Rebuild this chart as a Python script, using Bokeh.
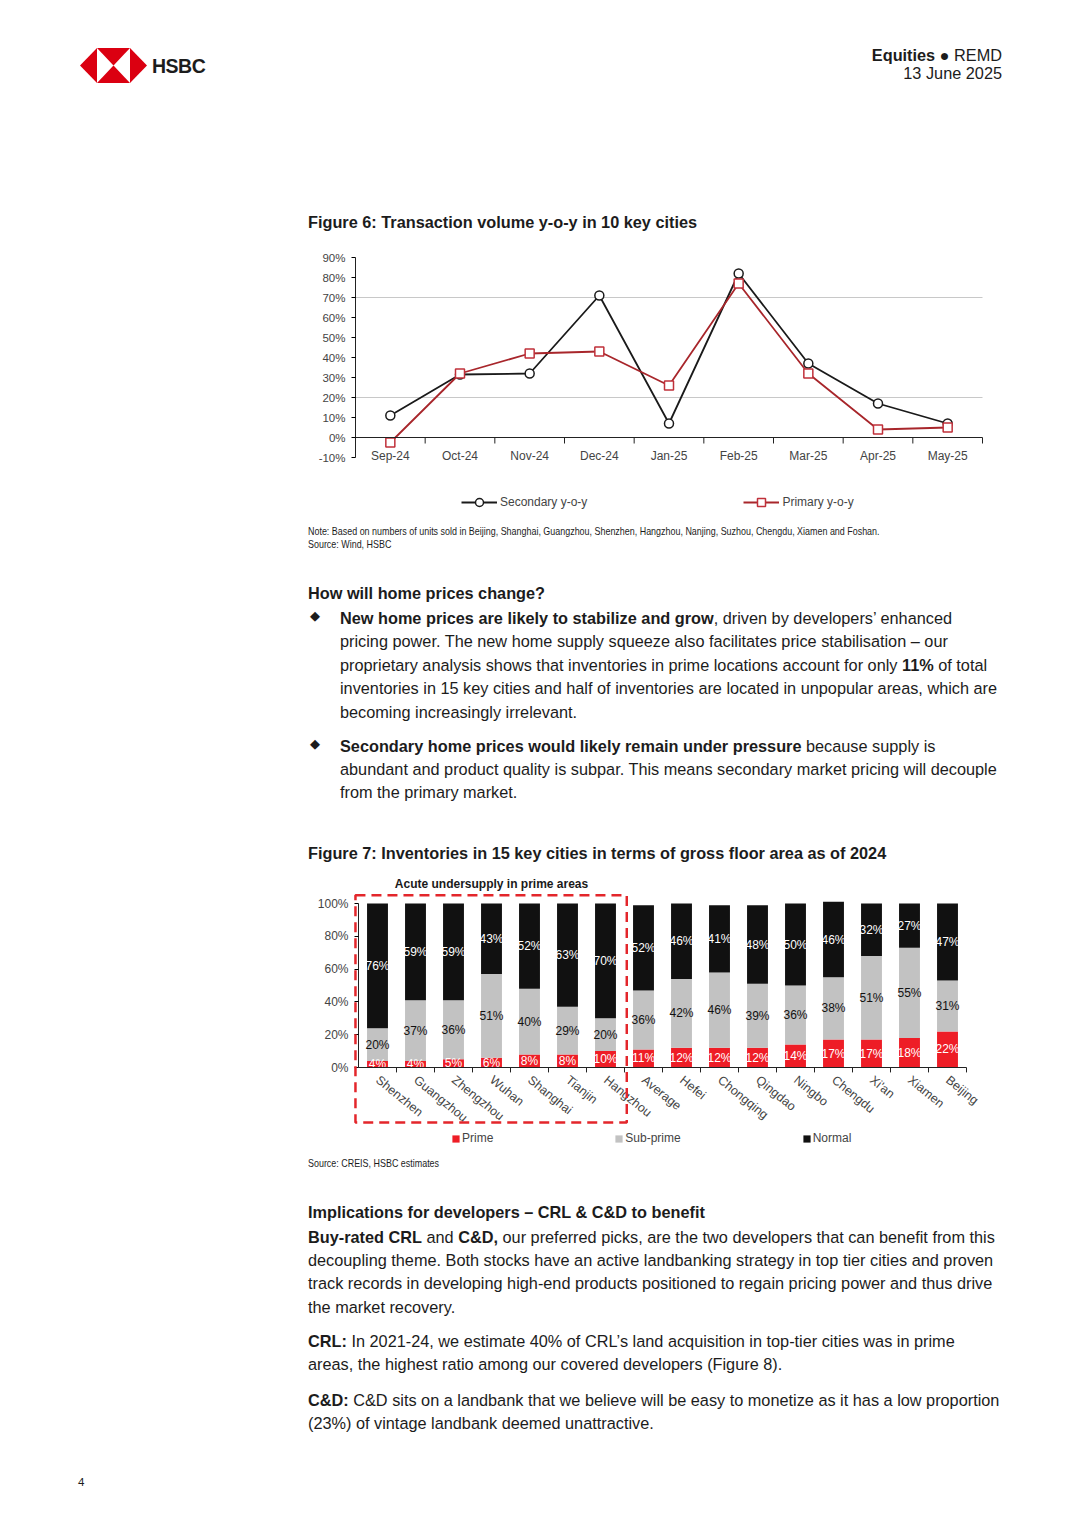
from bokeh.plotting import figure
from bokeh.models import (Div, Range1d, Legend, LegendItem, FixedTicker,
                          PrintfTickFormatter, BoxAnnotation, Label, ColumnDataSource)
from bokeh.layouts import column
from bokeh.embed import file_html
from bokeh.resources import INLINE
from bokeh.core.properties import value

# ---------------- data ----------------
months = ["Sep-24", "Oct-24", "Nov-24", "Dec-24", "Jan-25", "Feb-25", "Mar-25", "Apr-25", "May-25"]
secondary_yoy = [11, 31.5, 32, 71, 7, 82, 37, 17, 7]
primary_yoy = [-2.5, 32, 42, 43, 26, 77, 32, 4, 5]
yoy_ticks = [-10, 0, 10, 20, 30, 40, 50, 60, 70, 80, 90]

cities = ["Shenzhen", "Guangzhou", "Zhengzhou", "Wuhan", "Shanghai", "Tianjin", "Hangzhou",
          "Average", "Hefei", "Chongqing", "Qingdao", "Ningbo", "Chengdu", "Xi'an", "Xiamen", "Beijing"]
prime = [4, 4, 5, 6, 8, 8, 10, 11, 12, 12, 12, 14, 17, 17, 18, 22]
sub_prime = [20, 37, 36, 51, 40, 29, 20, 36, 42, 46, 39, 36, 38, 51, 55, 31]
normal = [76, 59, 59, 43, 52, 63, 70, 52, 46, 41, 48, 50, 46, 32, 27, 47]
share_ticks = [0, 20, 40, 60, 80, 100]
undersupply_cities = cities[:7]

CH = "Liberation Sans"
BODY = "'Liberation Sans', Arial, sans-serif"
W = 1072
OX = 0  # page origin
FL, FR = 300, 1000  # common plot-frame edges of both charts (the column aligns them)


def txt(x, yc, html, top_ref, size=16.3, weight="normal", family=BODY, right=None,
        color="#1c1c1c", extra=""):
    lh = round(size * 1.3)
    top = yc - top_ref - lh / 2
    pos = f"left:{x - OX}px;" if right is None else f"right:{W - (right - OX)}px;"
    return (f'<div style="position:absolute;{pos}top:{top:.1f}px;font-family:{family};'
            f'font-size:{size}px;line-height:{lh}px;font-weight:{weight};color:{color};'
            f'white-space:nowrap;{extra}">{html}</div>')


def box(html, h):
    return Div(text=f'<div style="position:relative;width:{W}px;height:{h}px;overflow:hidden;">{html}</div>',
               width=W, height=h, margin=0)


NOTE = "transform:scaleX(0.812);transform-origin:0 50%;"

# ---------------- header div ----------------
TOP_A = 0
logo = (f'<svg style="position:absolute;left:{80 - OX}px;top:{48 - TOP_A}px" width="67" height="35" viewBox="0 0 67 35">'
        '<polygon points="0,17.5 17,0 17,35" fill="#db0011"/>'
        '<polygon points="67,17.5 50,0 50,35" fill="#db0011"/>'
        '<polygon points="17,0 50,0 33.5,17.5" fill="#db0011"/>'
        '<polygon points="17,35 50,35 33.5,17.5" fill="#db0011"/></svg>')
head = logo
head += txt(152, 66, "HSBC", TOP_A, size=19.5, weight="bold", extra="letter-spacing:-0.5px;")
head += txt(0, 55, "<b>Equities</b> &#9679; REMD", TOP_A, size=16.3, right=1002)
head += txt(0, 73, "13 June 2025", TOP_A, size=16.3, right=1002)
head += txt(308, 222, "Figure 6: Transaction volume y-o-y in 10 key cities", TOP_A, weight="bold")
div_a = box(head, 240)

# ---------------- chart 1 ----------------
# axes box: x 355..982 (9 month slots), y 257 (90%) .. 457 (-10%); frame y 250..515
nm = len(months)
mpos = [i + 0.5 for i in range(nm)]
slot1 = (982 - 355) / nm
px_per_unit1 = 200 / 100
y1_top = 90 + (257 - 250) / px_per_unit1
y1_bot = 90 - (515 - 257) / px_per_unit1
p1 = figure(x_range=Range1d(-(355 - FL) / slot1, nm + (FR - 982) / slot1),
            y_range=Range1d(y1_bot, y1_top), width=W, height=280,
            output_backend="svg", toolbar_location=None, margin=0,
            min_border_left=FL - OX, min_border_right=W - (FR - OX), min_border_top=10,
            min_border_bottom=5)
p1.outline_line_color = None
p1.background_fill_color = None
p1.border_fill_color = None
p1.xgrid.grid_line_color = None
p1.ygrid.ticker = FixedTicker(ticks=[20, 70])
p1.ygrid.cross_bounds = (0, nm)
p1.ygrid.grid_line_color = "#c8c8c8"
p1.yaxis.fixed_location = 0
p1.yaxis.ticker = FixedTicker(ticks=yoy_ticks)
p1.yaxis.bounds = (yoy_ticks[0], yoy_ticks[-1])
p1.yaxis.formatter = PrintfTickFormatter(format="%d%%")
p1.yaxis.major_label_text_font = CH
p1.yaxis.major_label_text_font_size = "11.5px"
p1.yaxis.major_tick_out = 4
p1.yaxis.major_tick_in = 0
p1.yaxis.minor_tick_line_color = None
p1.yaxis.axis_line_color = "#222222"
p1.yaxis.major_label_standoff = 6
p1.xaxis.fixed_location = 0
p1.xaxis.bounds = (0, nm)
p1.xaxis.ticker = FixedTicker(ticks=mpos)
p1.xaxis.major_label_overrides = {x: m for x, m in zip(mpos, months)}
p1.xaxis.axis_line_color = "#222222"
p1.xaxis.major_tick_line_color = None
p1.xaxis.minor_tick_line_color = None
p1.xaxis.major_label_standoff = 5
p1.xaxis.major_label_text_font = CH
p1.xaxis.major_label_text_font_size = "12px"

bounds = list(range(1, nm + 1))
p1.segment(x0=bounds, x1=bounds, y0=[0] * nm, y1=[-3] * nm, line_color="#222222", line_width=1)

r_sec_l = p1.line(mpos, secondary_yoy, line_color="#1a1a1a", line_width=1.8)
r_sec_m = p1.scatter(mpos, secondary_yoy, marker="circle", size=9, fill_color="white",
                     line_color="#1a1a1a", line_width=1.5)
r_pri_l = p1.line(mpos, primary_yoy, line_color="#a8262b", line_width=1.8)
r_pri_m = p1.scatter(mpos, primary_yoy, marker="square", size=9, fill_color="white",
                     line_color="#c0303a", line_width=1.5)

leg1 = Legend(items=[LegendItem(label="Secondary y-o-y", renderers=[r_sec_l, r_sec_m]),
                     LegendItem(label="Primary y-o-y", renderers=[r_pri_l, r_pri_m])],
              orientation="horizontal", location=(463 - 2 - FL, 3), spacing=156, glyph_width=36,
              label_text_font=CH, label_text_font_size="12px", label_standoff=3,
              border_line_color=None, background_fill_alpha=0, margin=0, padding=2)
p1.add_layout(leg1)

# ---------------- middle div ----------------
TOP_B = 520
mid = ""
mid += txt(308, 531, "Note: Based on numbers of units sold in Beijing, Shanghai, Guangzhou, Shenzhen, "
           "Hangzhou, Nanjing, Suzhou, Chengdu, Xiamen and Foshan.", TOP_B, size=11, extra=NOTE)
mid += txt(308, 544, "Source: Wind, HSBC", TOP_B, size=11, extra=NOTE)
mid += txt(308, 593, "How will home prices change?", TOP_B, weight="bold")
mid += txt(310, 615, "&#9670;", TOP_B, size=13, family="'DejaVu Sans'")
b1 = ["<b>New home prices are likely to stabilize and grow</b>, driven by developers\u2019 enhanced",
      "pricing power. The new home supply squeeze also facilitates price stabilisation \u2013 our",
      "proprietary analysis shows that inventories in prime locations account for only <b>11%</b> of total",
      "inventories in 15 key cities and half of inventories are located in unpopular areas, which are",
      "becoming increasingly irrelevant."]
for i, s in enumerate(b1):
    mid += txt(340, 618 + i * 23.5, s, TOP_B)
mid += txt(310, 743, "&#9670;", TOP_B, size=13, family="'DejaVu Sans'")
b2 = ["<b>Secondary home prices would likely remain under pressure</b> because supply is",
      "abundant and product quality is subpar. This means secondary market pricing will decouple",
      "from the primary market."]
for i, s in enumerate(b2):
    mid += txt(340, 746 + i * 23.3, s, TOP_B)
mid += txt(308, 853, "Figure 7: Inventories in 15 key cities in terms of gross floor area as of 2024",
           TOP_B, weight="bold")
div_b = box(mid, 350)

# ---------------- chart 2 ----------------
n = len(cities)
src = ColumnDataSource(dict(
    pos=[i + 0.5 for i in range(n)], city=cities, prime=prime, sub_prime=sub_prime, normal=normal,
    prime_mid=[p / 2 for p in prime],
    sub_mid=[p + s / 2 for p, s in zip(prime, sub_prime)],
    normal_mid=[p + s + q / 2 for p, s, q in zip(prime, sub_prime, normal)],
    prime_lbl=[f"{v}%" for v in prime],
    sub_lbl=[f"{v}%" for v in sub_prime],
    normal_lbl=[f"{v}%" for v in normal],
))
# axes box: slot 0 starts at x 358, 38px per slot; 100% at y 903, 0% at 1067; frame y 872..1148
slot_px = 38.0
unit_px = 164 / 100
x2_start = -(358 - FL) / slot_px
x2_end = (FR - 358) / slot_px
y2_top = 100 + (903 - 872) / unit_px
y2_bot = -(1148 - 1067) / unit_px
p2 = figure(x_range=Range1d(x2_start, x2_end), y_range=Range1d(y2_bot, y2_top), width=W, height=280,
            output_backend="svg", toolbar_location=None, margin=0,
            min_border_left=FL - OX, min_border_right=W - (FR - OX), min_border_top=2,
            min_border_bottom=2)
p2.outline_line_color = None
p2.background_fill_color = None
p2.border_fill_color = None
p2.xgrid.grid_line_color = None
p2.ygrid.grid_line_color = None
p2.yaxis.fixed_location = 0
p2.yaxis.bounds = (share_ticks[0], share_ticks[-1])
p2.yaxis.ticker = FixedTicker(ticks=share_ticks)
p2.yaxis.formatter = PrintfTickFormatter(format="%d%%")
p2.yaxis.major_label_text_font = CH
p2.yaxis.major_label_text_font_size = "12px"
p2.yaxis.major_tick_out = 4
p2.yaxis.major_tick_in = 0
p2.yaxis.minor_tick_line_color = None
p2.yaxis.axis_line_color = "#222222"
p2.yaxis.major_label_standoff = 6

p2.xaxis.fixed_location = 0
p2.xaxis.bounds = (0, n)
p2.xaxis.ticker = FixedTicker(ticks=src.data["pos"])
p2.xaxis.major_label_overrides = {x: c for x, c in zip(src.data["pos"], cities)}
p2.xaxis.axis_line_color = "#222222"
p2.xaxis.major_tick_line_color = None
p2.xaxis.minor_tick_line_color = None
p2.xaxis.major_label_orientation = -0.68
p2.xaxis.major_label_text_font = CH
p2.xaxis.major_label_text_font_size = "12.5px"
p2.xaxis.major_label_standoff = 5

slot_edges = list(range(1, n + 1))
p2.segment(x0=slot_edges, x1=slot_edges, y0=[0] * n, y1=[-3] * n, line_color="#222222", line_width=1)

rs = p2.vbar_stack(["prime", "sub_prime", "normal"], x="pos", width=0.55,
                   color=["#ee1d26", "#c2c2c2", "#111111"], line_color=None, source=src)
for col, colr in (("prime", "white"), ("sub", "#111111"), ("normal", "white")):
    p2.text(x="pos", y=f"{col}_mid", text=f"{col}_lbl", source=src, text_color=colr,
            text_align="center", text_baseline="middle", text_font=value(CH),
            text_font_size="12px")

n_us = len(undersupply_cities)
p2.add_layout(BoxAnnotation(left=-0.08, right=n_us + 0.06, bottom=-33.5, top=105,
                            fill_alpha=0, line_color="#e3262b", line_alpha=1.0, line_width=2.5,
                            line_dash="10 6"))
p2.add_layout(Label(x=n_us / 2, y=112, text="Acute undersupply in prime areas",
                    text_align="center", text_baseline="middle", text_font=CH,
                    text_font_size="12px", text_font_style="bold", text_color="#1a1a1a"))

leg2 = Legend(items=[LegendItem(label="Prime", renderers=[rs[0]]),
                     LegendItem(label="Sub-prime", renderers=[rs[1]]),
                     LegendItem(label="Normal", renderers=[rs[2]])],
              orientation="horizontal", location=(453 - 2 - FL, 3), spacing=121,
              glyph_width=9, glyph_height=9, label_standoff=2,
              label_text_font=CH, label_text_font_size="12px",
              border_line_color=None, background_fill_alpha=0, margin=0, padding=2)
p2.add_layout(leg2)

# ---------------- bottom div ----------------
TOP_C = 1150
bot = ""
bot += txt(308, 1163, "Source: CREIS, HSBC estimates", TOP_C, size=11, extra=NOTE)
bot += txt(308, 1212, "Implications for developers \u2013 CRL &amp; C&amp;D to benefit", TOP_C, weight="bold")
par1 = ["<b>Buy-rated CRL</b> and <b>C&amp;D,</b> our preferred picks, are the two developers that can benefit from this",
        "decoupling theme. Both stocks have an active landbanking strategy in top tier cities and proven",
        "track records in developing high-end products positioned to regain pricing power and thus drive",
        "the market recovery."]
for i, s in enumerate(par1):
    bot += txt(308, 1237 + i * 23.4, s, TOP_C)
par2 = ["<b>CRL:</b> In 2021-24, we estimate 40% of CRL\u2019s land acquisition in top-tier cities was in prime",
        "areas, the highest ratio among our covered developers (Figure 8)."]
for i, s in enumerate(par2):
    bot += txt(308, 1341 + i * 23.5, s, TOP_C)
par3 = ["<b>C&amp;D:</b> C&amp;D sits on a landbank that we believe will be easy to monetize as it has a low proportion",
        "(23%) of vintage landbank deemed unattractive."]
for i, s in enumerate(par3):
    bot += txt(308, 1400 + i * 23.5, s, TOP_C)
bot += txt(78, 1482, "4", TOP_C, size=11.5)
div_c = box(bot, 370)

page = column(div_a, p1, div_b, p2, div_c, spacing=0, margin=0)
open("out.html", "w").write(file_html(page, INLINE))
